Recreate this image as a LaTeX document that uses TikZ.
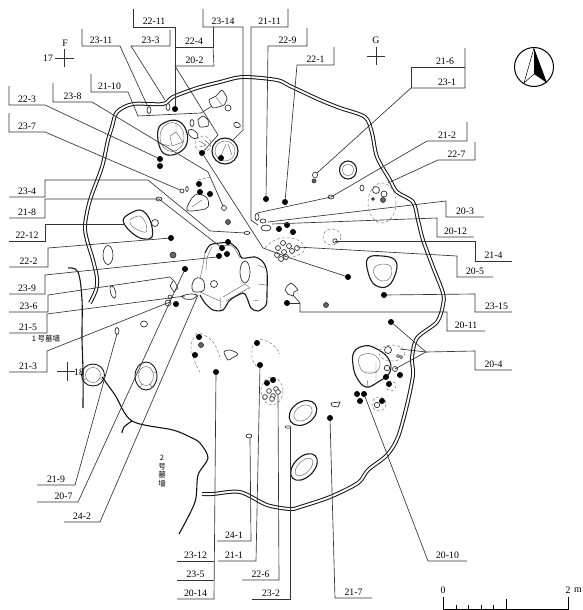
\documentclass[tikz,border=0pt]{standalone}
\usepackage{fontspec}
\setmainfont{Liberation Serif}
\newfontfamily\cjkf{Noto Sans CJK SC}
\tikzset{
  ld/.style={line width=0.65pt,draw=black!80},
  wallline/.style={line width=1pt,draw=black!92,double=white,double distance=1.9pt},
  tomb/.style={line width=1.1pt,draw=black!92},
  pit/.style={line width=1.1pt,draw=black!90},
  inpit/.style={line width=0.45pt,draw=black!60},
  sm/.style={line width=0.65pt,draw=black!85,fill=white},
  dk/.style={line width=0.6pt,draw=black!85,fill=black!60},
  dsh/.style={line width=0.5pt,draw=black!50,densely dashed},
  labn/.style={inner sep=0pt,outer sep=0pt,minimum height=12pt,font=\fontsize{9.8}{10}\selectfont,text=black},
  dotn/.style={circle,fill=black,inner sep=0pt,minimum size=6pt},
  tx/.style={inner sep=0pt,font=\fontsize{9.8}{10}\selectfont,text=black},
}
\newcommand{\lab}[6][0]{\node[labn,minimum width={(#4-#3)*1pt}] (#2) at ({(#3+#4)/2},{#5-6}) {\hspace*{#1pt}#6};}
\newcommand{\dt}[3]{\node[dotn] (#1) at (#2,#3) {};}
\begin{document}
\begin{tikzpicture}[x=1pt,y=-1pt]
\useasboundingbox (0,0) rectangle (583,610);
% --- wall
\draw[wallline] plot[smooth,tension=0.5] coordinates {(90,303)(96,290)(97,278)(93,260)(87,240)(85,225)(90,200)(102,167)(108,140)(112,127)(117,112)(133,104)(163,104)(173,97)(197,88)(220,82)(243,77)(277,80)(290,86)(320,100)(340,108)(365,117)(372,133)(377,157)(390,180)(397,192)(413,202)(418,220)(423,240)(433,267)(443,293)(443,305)(437,322)(417,338)(412,358)(413,375)(407,405)(398,437)(387,455)(368,470)(358,483)(330,497)(300,507)(290,509)(267,505)(240,492)(213,494)(202,494)};
% --- tomb walls
\draw[tomb] plot[smooth,tension=0.6] coordinates {(68,268)(78,272)(82,300)(82,338)(83,372)(83,408)};
\draw[tomb] plot[smooth,tension=0.5] coordinates {(102,377)(115,395)(132,421)(173,430)(190,437)(200,443)(208,458)(198,475)(195,502)(179,534)};
\draw[tomb] plot[smooth,tension=0.6] coordinates {(132,421)(124,427)(122,433)};
% --- pits
\draw[pit] plot[smooth cycle,tension=0.7] coordinates {(158,130)(166,122)(178,121)(186,130)(187,143)(180,152)(168,155)(160,148)};
\draw[inpit] (172,137) ellipse [x radius=12,y radius=14.5];
\draw[inpit] (176,132)--(183,142)--(172,146)--(170,136)--cycle (157,143)--(170,146) (176,122)--(176,132);
\draw[pit] (225,151) ellipse [x radius=13,y radius=13];
\draw[inpit] (225,151) ellipse [x radius=10,y radius=10];
\draw[inpit] (220,158)--(226,144)(228,144)--(232,155);
\draw[pit] plot[smooth cycle,tension=0.6] coordinates {(124,218)(140,210)(150,220)(152,237)(140,238)(127,228)};
\draw[inpit] plot[smooth cycle,tension=0.6] coordinates {(130,220)(140,216)(146,224)(146,232)(138,230)(132,226)};
\draw[pit] (348,170) ellipse [x radius=8.5,y radius=9];
\draw[inpit] (348,170) ellipse [x radius=5.5,y radius=6];
\draw[pit] plot[smooth cycle,tension=0.7] coordinates {(368,258)(382,256)(395,260)(396,272)(388,286)(375,285)(368,272)};
\draw[inpit] plot[smooth cycle,tension=0.7] coordinates {(374,268)(382,264)(391,267)(390,278)(382,281)(375,276)};
\draw[pit,line width=0.9pt] (93,375) ellipse [x radius=11.5,y radius=11];
\draw[inpit] (93,375) ellipse [x radius=7.5,y radius=7.5];
\draw[inpit] (93,364)--(93,367.5)(102,380)--(99,378)(84,380)--(87,378);
\draw[pit,line width=0.9pt] (146,376) ellipse [x radius=11,y radius=14];
\draw[inpit] (146,376) ellipse [x radius=7.5,y radius=9.5];
\draw[inpit] (136,372)--(139,373)(156,372)--(153,373)(140,388)--(142,384)(152,388)--(150,384);
\draw[pit,rotate around={35:(303,413)}] (303,413) ellipse [x radius=15,y radius=11];
\draw[inpit,rotate around={35:(303,413)}] (303,413) ellipse [x radius=10,y radius=7];
\draw[pit,rotate around={45:(304,467)}] (304,467) ellipse [x radius=16,y radius=10];
\draw[inpit,rotate around={45:(304,467)}] (304,467) ellipse [x radius=11,y radius=6];
\draw[pit] plot[smooth cycle,tension=0.7] coordinates {(354,352)(364,346)(375,348)(388,358)(390,372)(378,382)(366,387)(357,378)(353,365)};
\draw[inpit] plot[smooth cycle,tension=0.7] coordinates {(360,356)(372,354)(380,362)(376,372)(364,372)(359,364)};
\draw[inpit] (365,372)--(378,372)(376,362)--(376,381)(367,380)--(368,386);
% --- central pit
\draw[pit] plot[smooth,tension=0.5] coordinates {(205,253)(210,245)(220,243)(230,243)(238,250)(242,258)(255,257)(263,262)(267,272)(267,293)(266,305)(258,311)(251,308)(247,298)(243,293)(230,300)(223,310)(213,310)(205,303)(200,295)};
\draw[inpit] plot[smooth,tension=0.5] coordinates {(205,253)(202,270)(200,278)};
\draw[inpit] plot[smooth,tension=0.5] coordinates {(212,247)(207,258)(206,270)};
\draw[inpit] plot[smooth,tension=0.5] coordinates {(218,246)(232,246)(240,258)};
\draw[sm] plot[smooth cycle,tension=0.7] coordinates {(195,279)(200,278)(204,282)(204,290)(198,292)(193,291)(192,285)};
\draw[sm] (245,272) ellipse [x radius=5,y radius=11];
\draw[inpit] (223,297)--(245,284)(226,301)--(247,289)(245,284)--(250,288)--(247,289);
\draw[sm] (214,284) ellipse [x radius=3.5,y radius=3.5];
\draw[inpit] (258,265)--(265,268)(258,284)--(266,285)(253,300)--(259,301)(200,292)--(220,301)(220,297)--(221,310);
% --- small shapes north
\draw[sm] plot[smooth cycle,tension=0.3] coordinates {(209,100)(216,96)(222,90)(227,98)(224,105)(213,108)};
\draw[inpit] (216,97)--(222,105);
\coordinate (c2110) at (212,106);
\draw[sm] (228,108) circle (3);
\draw[sm] plot[smooth cycle,tension=0.3] coordinates {(198,120)(203,116)(208,120)(208,126)(200,127)};
\draw[sm,rotate around={-40:(193,134)}] (193,134) ellipse [x radius=6,y radius=3.5];
\draw[sm] (192,123) ellipse [x radius=2,y radius=3.5];
\draw[sm,rotate around={-25:(237,125)}] (237,125) ellipse [x radius=3.5,y radius=2.5];
\draw[dsh] (203,144) circle (8);
\draw[inpit] (199,141)--(206,145)--(200,147)(205,140)--(209,144);
\coordinate (s2311) at (147,105);
\draw[sm] (149,110) ellipse [x radius=2,y radius=3.5];
\draw[sm] (168,107) ellipse [x radius=2,y radius=3.5];
\draw[sm] (108,255) ellipse [x radius=5,y radius=9.5];
\draw[sm,rotate around={15:(113,292)}] (113,292) ellipse [x radius=2.5,y radius=6.5];
\draw[sm] (155,223) circle (3.5);
\draw[dk] (173,255) ellipse [x radius=3,y radius=3];
\draw[dk] (228,222) ellipse [x radius=2.5,y radius=2.5];
\draw[sm] plot[smooth cycle,tension=0.6] coordinates {(187,210)(192,198)(198,194)(207,198)(208,207)(200,210)};
\draw[inpit] (192,207)--(202,200);
\draw[dsh] (198,180)--(210,177);
\draw[sm] (182,191) circle (2);
\draw[sm] (187,189) ellipse [x radius=1.3,y radius=2.5];
\coordinate (s237) at (180,190);
\draw[sm] (224,208) circle (2.5);
\draw[sm] (159,199) ellipse [x radius=3,y radius=2];
\draw[sm] (247,233) ellipse [x radius=3,y radius=1.5];
\coordinate (s218) at (159,199);
\coordinate (s238) at (223,206);
\coordinate (s234) at (245,233);
% --- shapes cluster centre
\draw[sm] (257,217) ellipse [x radius=2,y radius=3.5];
\draw[sm] (263,221) ellipse [x radius=3,y radius=2];
\draw[sm] (266,228) ellipse [x radius=5,y radius=3];
\draw[dsh] plot[smooth,tension=0.7] coordinates {(265,248)(275,240)(290,238)(302,243)(303,252)(290,258)};
\foreach \a/\b in {283/243,278/248,289/246,284/252,292/251,277/255,286/257,281/259,297/248}{\draw[sm] (\a,\b) circle (2.5);}
\draw[dsh] (332,237) ellipse [x radius=9,y radius=8];
\draw[sm] (335,241) circle (2.2);
\draw[dsh] (382,203) ellipse [x radius=14,y radius=20];
\draw[sm] (362,188) ellipse [x radius=2,y radius=3];
\draw[sm] (376,190) circle (3.5);
\draw[sm] (384,194) circle (3);
\draw[dk] (383,200) circle (2.5);
\draw[dk] (373,199) circle (1.4);
\draw[sm] (331,197) ellipse [x radius=3,y radius=2];
\draw[sm] (315,175) ellipse [x radius=2.5,y radius=3];
\draw[dk] (314,181) circle (2);
% --- shapes around west of pit
\draw[sm] (170,277)--(175,282)--(178,288)--(174,292)--(170,286)--(173,281);
\draw[sm] plot[smooth cycle,tension=0.4] coordinates {(182,296)(190,294)(197,295)(193,299)(185,299)};
\draw[sm] (168,303) circle (3);
\draw[sm] (170,297) circle (2);
\draw[sm] (144,324) ellipse [x radius=3.5,y radius=3];
\draw[sm] (117,331) ellipse [x radius=2,y radius=3.5];
\coordinate (s219) at (117,334);
\coordinate (s2310) at (170,277);
% --- shapes south/east
\draw[dsh] plot[smooth,tension=0.7] coordinates {(197,333)(191,345)(195,362)(200,372)};
\draw[dsh] plot[smooth,tension=0.7] coordinates {(200,333)(213,342)(221,360)};
\draw[sm] plot[smooth cycle,tension=0.5] coordinates {(224,352)(230,350)(238,354)(232,358)(228,360)};
\draw[dsh] plot[smooth,tension=0.7] coordinates {(253,345)(252,358)(258,368)};
\draw[dsh] plot[smooth,tension=0.7] coordinates {(260,339)(272,344)(280,354)};
\draw[dsh] (272,391) ellipse [x radius=11,y radius=14];
\foreach \a/\b in {269/391,276/389,265/397,273/396,278/392,272/399}{\draw[sm] (\a,\b) circle (2.4);}
\draw[sm] (249,436) ellipse [x radius=3,y radius=2];
\draw[sm] (288,427) ellipse [x radius=3,y radius=1.2];
\draw[sm] (291,283)--(295,286)--(298,290)--(294,292)--(293,296)--(288,294)--(285,290)--(287,286)--cycle;
\draw[dk] (326,305) circle (2.5);
\draw[sm] (331,403)--(340,402)--(338,407)--(332,406)--cycle;
\draw[sm] (388,350) circle (3.5);
\draw[dsh] (392,353) ellipse [x radius=13,y radius=8];
\draw[sm] (398,356) circle (1.5);
\draw[sm] (401,357) circle (1.5);
\draw[sm] (387,368) circle (2.8);
\draw[sm] (395,369) circle (2.5);
\draw[sm] (377,405) circle (2.7);
\draw[dsh] (379,404) ellipse [x radius=7,y radius=7];
\draw[dsh] (391,386) circle (5);
\coordinate (s204a) at (400,349);
\coordinate (s204b) at (395,369);
% --- dots
\dt{d2211}{175}{109}
\dt{d223}{160}{159}
\dt{d223b}{160}{166}
\dt{d202}{202}{153}
\dt{d10}{221}{158}
\dt{d229}{266}{199}
\dt{d221}{285}{202}
\dt{n1}{199}{184}
\dt{n2}{200}{192}
\dt{n3}{210}{194}
\dt{d222}{171}{238}
\dt{p1}{228}{242}
\dt{p2}{222}{248}
\dt{p3}{219}{256}
\dt{p4}{227}{254}
\dt{d207}{185}{269}
\dt{w1}{176}{304}
\dt{c1}{279}{229}
\dt{c2}{287}{225}
\dt{c3}{293}{232}
\dt{e1}{348}{277}
\dt{d2315}{384}{295}
\dt{st}{287}{303}
\dt{d204}{391}{322}
\dt{f1}{386}{377}
\dt{f2}{400}{375}
\dt{f3}{389}{384}
\dt{d2010}{364}{394}
\dt{g1}{357}{394}
\dt{g2}{360}{401}
\dt{g3}{382}{401}
\dt{d217}{330}{418}
\dt{d2014}{216}{372}
\dt{d211}{260}{365}
\dt{h1}{257}{343}
\dt{h2}{199}{337}
\dt{h3}{195}{355}
\dt{h4}{267}{383}
\dt{h5}{273}{380}
\node[dk,circle,inner sep=0pt,minimum size=5pt] (h6) at (201,345) {};
\coordinate (s2212) at (125,224);
\coordinate (s241) at (250,438);
\coordinate (s226) at (278,395);
\coordinate (s232) at (290,428);
\coordinate (s2111) at (258,225);
\coordinate (s212) at (257,213);
\coordinate (s203) at (268,222);
\coordinate (s2012) at (272,224);
\coordinate (s205) at (297,247);
\coordinate (s214) at (335,241);
\coordinate (s227) at (388,183);
\coordinate (s231) at (317,173);
\coordinate (s233) at (165,100);
\coordinate (s215) at (185,296);
\coordinate (s213) at (170,302);
\coordinate (s242) at (198,295);
\coordinate (s23b) at (217,257);
% --- labels
\lab{L2211}{133}{175}{27}{22-11}
\lab{L2314}{203}{243}{27}{23-14}
\lab{L2111}{251}{288}{27}{21-11}
\lab{L229}{268}{307}{46}{22-9}
\lab{L221}{297}{334}{65}{22-1}
\lab{L2311}{82}{120}{46}{23-11}
\lab{L233}{131}{170}{46}{23-3}
\lab{L224}{175}{213}{47}{22-4}
\lab{L202}{175}{214}{66}{20-2}
\lab{L2110}{91}{128}{92}{21-10}
\lab{L223}{9}{45}{105}{22-3}
\lab{L238}{53}{92}{102}{23-8}
\lab{L237}{9}{45}{132}{23-7}
\lab{L234}{9}{45}{197}{23-4}
\lab{L218}{9}{45}{218}{21-8}
\lab{L2212}{9}{45}{241}{22-12}
\lab{L222}{9}{48}{267}{22-2}
\lab{L239}{9}{45}{294}{23-9}
\lab{L236}{9}{48}{312}{23-6}
\lab{L215}{9}{47}{333}{21-5}
\lab{L213}{9}{47}{372}{21-3}
\lab{L219}{37}{75}{485}{21-9}
\lab[12]{L207}{37}{78}{502}{20-7}
\lab{L242}{64}{100}{522}{24-2}
\lab{L241}{217}{251}{541}{24-1}
\lab{L2312}{177}{214}{561}{23-12}
\lab[-6]{L211}{218}{256}{561}{21-1}
\lab{L235}{177}{214}{580}{23-5}
\lab{L2014}{177}{214}{599}{20-14}
\lab{L226}{242}{279}{580}{22-6}
\lab{L232}{252}{290}{599}{23-2}
\lab{L217}{335}{372}{598}{21-7}
\lab{L2010}{428}{467}{561}{20-10}
\lab{L204}{475}{512}{370}{20-4}
\lab{L2011}{447}{485}{331}{20-11}
\lab[6]{L2315}{475}{512}{312}{23-15}
\lab{L205}{457}{493}{277}{20-5}
\lab{L214}{475}{512}{261}{21-4}
\lab{L2012}{437}{474}{237}{20-12}
\lab{L203}{446}{484}{217}{20-3}
\lab{L227}{438}{475}{160}{22-7}
\lab{L212}{427}{467}{141}{21-2}
\lab[18]{L231}{411}{465}{88}{23-1}
\lab[14]{L216}{411}{465}{67}{21-6}
% --- leaders
\draw[ld] (133,9)--(L2211.south west)--(L2211.south east)--(d2211);
\draw[ld] (203,9)--(L2314.south west)--(L2314.south east)--(243,130)--(233,140);
\draw[ld] (288,9)--(L2111.south east)--(L2111.south west)--(251,220)--(s2111);
\draw[ld] (307,28)--(L229.south east)--(L229.south west)--(d229);
\draw[ld] (334,47)--(L221.south east)--(L221.south west)--(d221);
\draw[ld] (82,29)--(L2311.south west)--(L2311.south east)--(s2311);
\draw[ld] (170,30)--(L233.south east)--(L233.south west)--(s233);
\draw[ld] (213,27)--(L224.south east)--(L224.south west);
\draw[ld] (L224.south east)--(L202.south east)--(L202.south west)--(218,135)--(d202);
\draw[ld] (d202)--(263,248)--(290,258)--(e1);
\draw[ld] (91,74)--(L2110.south west)--(L2110.south east)--(138,116)--(201,113)--(c2110);
\draw[ld] (9,86)--(L223.south west)--(L223.south east)--(d223);
\draw[ld] (53,83)--(L238.south west)--(L238.south east)--(208,172)--(s238);
\draw[ld] (9,113)--(L237.south west)--(L237.south east)--(s237);
\draw[ld] (L234.south west)--(L234.south east)--(45,180)--(148,180)--(210,231)--(s234);
\draw[ld] (L218.south west)--(L218.south east)--(45,199)--(s218)--(p2);
\draw[ld] (L2212.south west)--(L2212.south east)--(45,224)--(s2212);
\draw[ld] (L222.south west)--(L222.south east)--(48,248)--(d222);
\draw[ld] (L239.south west)--(L239.south east)--(45,275)--(s23b);
\draw[ld] (L236.south west)--(L236.south east)--(48,295)--(s2310);
\draw[ld] (L215.south west)--(L215.south east)--(47,314)--(s215);
\draw[ld] (L213.south west)--(L213.south east)--(47,351)--(s213);
\draw[ld] (L219.south west)--(L219.south east)--(s219);
\draw[ld] (L207.south west)--(L207.south east)--(d207);
\draw[ld] (L242.south west)--(L242.south east)--(s242);
\draw[ld] (L241.south west)--(L241.south east)--(s241);
\draw[ld] (L211.south west)--(L211.south east)--(d211);
\draw[ld] (L2312.south west)--(L2312.south east);
\draw[ld] (L235.south west)--(L235.south east);
\draw[ld] (L2014.south west)--(L2014.south east)--(d2014);
\draw[ld] (L226.south west)--(L226.south east)--(s226);
\draw[ld] (L232.south west)--(L232.south east)--(s232);
\draw[ld] (L217.south east)--(L217.south west)--(d217);
\draw[ld] (L2010.south east)--(L2010.south west)--(d2010);
\draw[ld] (L204.south east)--(L204.south west)--(475,351)--(426,352);
\draw[ld] (d204)--(426,352)--(s204b);
\draw[ld] (426,352)--(s204a);
\draw[ld] (L2011.south east)--(L2011.south west)--(447,312)--(300,312)--(300,303)--(293,295);
\draw[ld] (st)--(300,303);
\draw[ld] (L2315.south east)--(L2315.south west)--(475,294)--(d2315);
\draw[ld] (L205.south east)--(L205.south west)--(457,256)--(s205);
\draw[ld] (L214.south east)--(L214.south west)--(475,241)--(s214);
\draw[ld] (L2012.south east)--(L2012.south west)--(437,218)--(s2012);
\draw[ld] (L203.south east)--(L203.south west)--(446,201)--(s203);
\draw[ld] (475,142)--(L227.south east)--(L227.south west)--(s227);
\draw[ld] (467,122)--(L212.south east)--(L212.south west)--(331,197)--(s212);
\draw[ld] (465,48)--(L231.south east)--(L231.south west)--(s231);
\draw[ld] (L216.south west)--(L216.south east);
\draw[ld] (L216.south west)--(L231.south west);
% --- grid crosses and marks
\draw[line width=0.7pt,draw=black!80] (55,58)--(74,58) (64.5,49)--(64.5,67);
\node[tx] (tF) at (65,43) {F};
\node[tx] (t17) at (48,58) {17};
\draw[line width=0.7pt,draw=black!80] (367,56)--(385,56) (376,47)--(376,65);
\node[tx] (tG) at (376,40) {G};
\draw[line width=0.7pt,draw=black!80] (57,371)--(75,371) (67,362)--(67,381);
\node[tx] (t18) at (79,372) {18};
% --- tomb labels
\node[inner sep=0pt,font=\cjkf\fontsize{7.5}{8}\selectfont,text=black] (t1) at (46,339) {1 号墓墙};
\node[inner sep=0pt,font=\cjkf\fontsize{7.5}{8.6}\selectfont,text=black,align=center] (t2) at (162,471) {2\\号\\墓\\墙};
% --- north arrow
\draw[line width=1pt] (534,67) circle (19.5);
\fill[black] (534,48)--(547,83)--(534,74)--cycle;
\draw[line width=0.5pt] (534,48)--(524,83)--(534,74);
% --- scale
\draw[line width=0.8pt] (443,597)--(443,609)--(568,609)--(568,597);
\draw[line width=0.8pt] (506,599)--(506,609);
\foreach \a in {456,468,481,493}{\draw[line width=0.7pt] (\a,605)--(\a,609);}
\node[tx] (s0) at (443,590) {0};
\node[tx] (s2) at (568,590) {2};
\node[tx] (sm) at (578,590) {m};
\end{tikzpicture}
\end{document}
